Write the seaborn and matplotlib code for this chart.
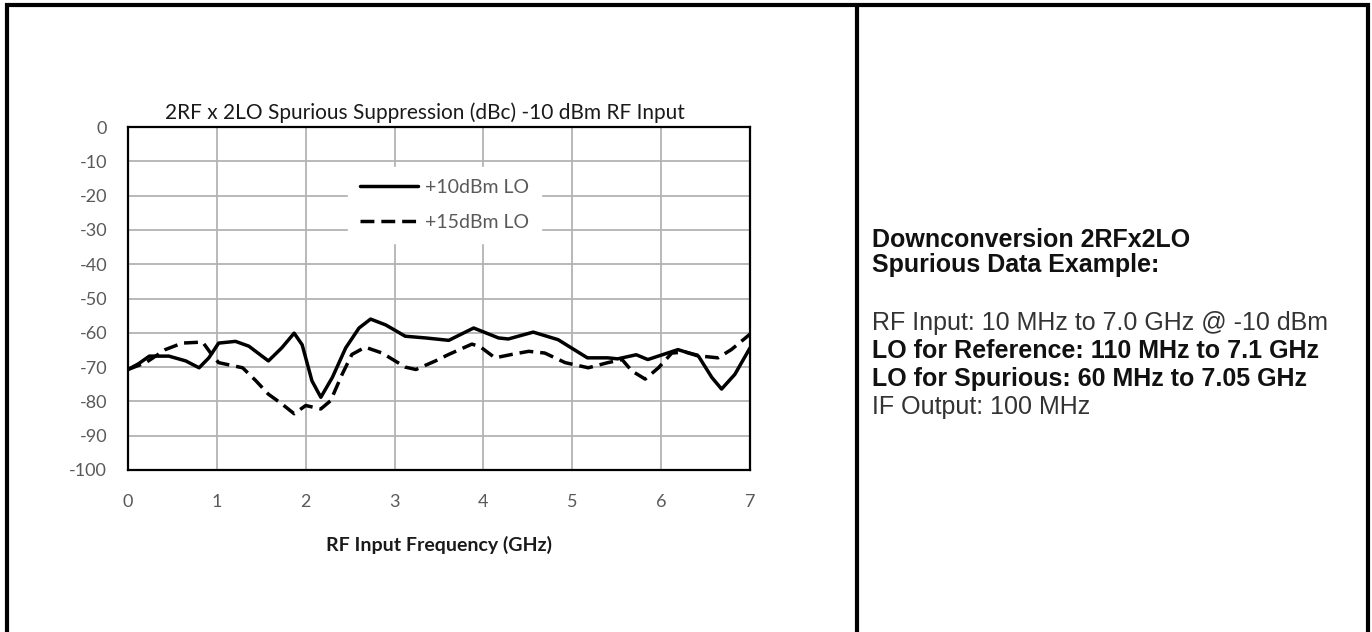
import pandas as pd
import matplotlib.pyplot as plt
import seaborn as sns
from matplotlib.patches import Rectangle
from matplotlib.lines import Line2D

# -------------------------
# DATA
# -------------------------
freq_10 = [0, 0.12, 0.24, 0.46, 0.65, 0.80, 0.91, 1.02, 1.21, 1.36, 1.58, 1.73, 1.87, 1.96,
           2.07, 2.17, 2.30, 2.45, 2.60, 2.73, 2.90, 3.12, 3.35, 3.61, 3.89, 4.17, 4.28, 4.56,
           4.84, 5.17, 5.40, 5.51, 5.72, 5.85, 6.19, 6.42, 6.57, 6.68, 6.83, 7.0]
spur_10 = [-70.7, -69, -66.8, -66.8, -68.2, -70.2, -67.3, -63, -62.5, -63.9, -68.2, -64.4, -60.1, -63.5,
           -74, -78.8, -73, -64.4, -58.6, -56, -57.7, -61, -61.5, -62.2, -58.6, -61.5, -61.8, -59.8,
           -62, -67.3, -67.3, -67.6, -66.4, -67.8, -64.9, -66.8, -73, -76.4, -72.1, -64.4]

freq_15 = [0, 0.2, 0.42, 0.61, 0.84, 0.93, 1.02, 1.29, 1.44, 1.58, 1.73, 1.87, 2.00, 2.17,
           2.28, 2.41, 2.52, 2.67, 2.86, 3.12, 3.24, 3.46, 3.61, 3.87, 3.96, 4.13, 4.32, 4.51,
           4.69, 4.92, 5.18, 5.40, 5.56, 5.67, 5.82, 5.97, 6.12, 6.27, 6.45, 6.64, 6.79, 7.0]
spur_15 = [-70.7, -68.7, -64.9, -63, -62.7, -65.9, -68.7, -70.2, -74, -77.9, -80.7, -83.6, -81.2, -82.2,
           -79.8, -72.1, -66.3, -64.2, -65.9, -70, -70.7, -68.2, -66.3, -63.3, -64, -67.3, -66.3, -65.4,
           -65.9, -68.7, -70.2, -68.7, -67.8, -71.1, -73.5, -70.2, -65.9, -65.6, -66.8, -67.3, -64.9, -60.4]

series_names = ["+10dBm LO", "+15dBm LO"]
x_ticks = list(range(0, 8))
y_ticks = list(range(-100, 1, 10))

title = "2RF x 2LO Spurious Suppression (dBc) -10 dBm RF Input"
x_label = "RF Input Frequency (GHz)"

info_lines = [
    ("Downconversion 2RFx2LO", "bold"),
    ("Spurious Data Example:", "bold"),
    ("RF Input: 10 MHz to 7.0 GHz @ -10 dBm", "normal"),
    ("LO for Reference: 110 MHz to 7.1 GHz", "bold"),
    ("LO for Spurious: 60 MHz to 7.05 GHz", "bold"),
    ("IF Output: 100 MHz", "normal"),
]

df = pd.concat([
    pd.DataFrame({"freq": freq_10, "spur": spur_10, "series": series_names[0]}),
    pd.DataFrame({"freq": freq_15, "spur": spur_15, "series": series_names[1]}),
])

# -------------------------
# STYLE
# -------------------------
sns.set_style("white")
plt.rcParams["font.family"] = ["Lato", "DejaVu Sans"]
plt.rcParams["axes.unicode_minus"] = False

W, H = 1372, 632
fig = plt.figure(figsize=(W / 100, H / 100), dpi=100)
ax = fig.add_axes([128 / W, 1 - 470 / H, (750 - 128) / W, (470 - 127) / H])

sns.lineplot(data=df, x="freq", y="spur", style="series", color="black",
             dashes={series_names[0]: "", series_names[1]: (4, 2)},
             linewidth=2.5, ax=ax, legend=False)

ax.set_xlim(0, 7)
ax.set_ylim(-100, 0)
ax.set_xticks(x_ticks)
ax.set_yticks(y_ticks)
ax.grid(True, color="#b3b3b3", linewidth=1.3)
ax.set_axisbelow(True)
for sp in ax.spines.values():
    sp.set_visible(True)
    sp.set_color("black")
    sp.set_linewidth(1.6)
ax.tick_params(axis="both", length=0, labelsize=13, labelcolor="#595959")
ax.tick_params(axis="x", pad=17)
ax.tick_params(axis="y", pad=15)

ax.set_title(title, fontsize=15, x=0.478, pad=6, color="#1a1a1a")
ax.set_xlabel(x_label, fontsize=14, fontweight="bold", labelpad=19, color="#1a1a1a")
ax.set_ylabel("")

# legend
handles = [Line2D([], [], color="black", lw=2.5),
           Line2D([], [], color="black", lw=2.5, dashes=(4, 2))]
leg = ax.legend(handles, series_names, loc="center", bbox_to_anchor=(0.509, 0.773),
                frameon=True, fancybox=False, edgecolor="white", facecolor="white", framealpha=1,
                handlelength=3.0, handletextpad=0.35, labelspacing=0.95, borderpad=0.6,
                fontsize=14, labelcolor="#595959")

# -------------------------
# FRAME + TEXT PANEL
# -------------------------
fig.patches.append(Rectangle((7 / W, -0.05), (1368 - 7) / W, 1.05 - 5 / H, transform=fig.transFigure,
                             fill=False, edgecolor="black", linewidth=3))
fig.add_artist(Line2D([857 / W, 857 / W], [0, 1 - 5 / H], transform=fig.transFigure,
                      color="black", linewidth=3))

y_pos = [240, 265, 323, 351, 379, 407]
for (txt, wt), yp in zip(info_lines, y_pos):
    fig.text(872 / W, 1 - yp / H, txt, fontsize=18, fontweight=wt, va="center", ha="left",
             family=["Liberation Sans", "DejaVu Sans"], color="#111111" if wt == "bold" else "#333333")

fig.savefig("out.png", dpi=100)
